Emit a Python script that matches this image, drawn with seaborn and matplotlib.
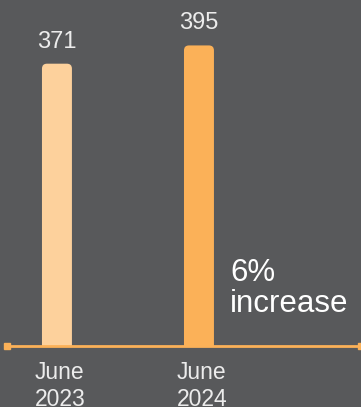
import matplotlib
matplotlib.use("Agg")
import matplotlib.pyplot as plt
import seaborn as sns
import pandas as pd
from matplotlib.patches import FancyBboxPatch, Rectangle

# data
periods = ["June\n2023", "June\n2024"]
counts = [371, 395]
bar_colors = ["#fdd19c", "#fbb158"]
note_text = "6%\nincrease"

bg = "#58595b"
line_color = "#fbb158"

sns.set_theme(style="white")
plt.rcParams["font.family"] = ["Liberation Sans", "DejaVu Sans"]

df = pd.DataFrame({"period": periods, "count": counts})

fig = plt.figure(figsize=(3.61, 4.07), dpi=100)
fig.patch.set_facecolor(bg)
ax = fig.add_axes([0, 0, 1, 1])
ax.set_facecolor(bg)

sns.barplot(data=df, x="period", y="count", hue="period", palette=bar_colors,
            width=0.211, saturation=1, legend=False, ax=ax)

ax.set_xlim(-0.401, 2.141)
ax.set_ylim(-80.2, 454.7)
ax.axis("off")

# px per data unit (y) and per category (x), to round the bar tops
px_y = 407 / (454.7 + 80.2)
px_x = 361 / (2.141 + 0.401)
radius_px = 5
clip = Rectangle((-1, 0), 10, 1000, transform=ax.transData)

for patch in list(ax.patches):
    x0, w, h = patch.get_x(), patch.get_width(), patch.get_height()
    fc = patch.get_facecolor()
    patch.remove()
    r = radius_px / px_x
    rb = FancyBboxPatch((x0 + r, -30 + r * px_x / px_y), w - 2 * r, h + 30 - 2 * r * px_x / px_y,
                        boxstyle=f"round,pad={r}", mutation_aspect=px_x / px_y,
                        facecolor=fc, edgecolor="none", zorder=2)
    ax.add_patch(rb)
    rb.set_clip_path(clip)

for i, v in enumerate(counts):
    ax.annotate(str(v), (i, v), xytext=(0, 8), textcoords="offset points",
                ha="center", va="bottom", fontsize=17, color="#ececec")
    ax.text(i + 0.02, -20, periods[i], ha="center", va="top", fontsize=16.5,
            color="#ececec", linespacing=1.2)

# baseline with square end caps
ax.plot([-0.35, 2.2], [0, 0], color=line_color, lw=2, zorder=3, clip_on=False)
ax.plot([-0.35], [0], marker="s", markersize=5, color=line_color, zorder=4)
ax.plot([2.141], [0], marker="s", markersize=5, color=line_color, zorder=4, clip_on=False)

ax.text(1.22, 36, note_text, ha="left", va="bottom", fontsize=22.5,
        color="white", linespacing=1.02)

fig.savefig("out.png", dpi=100, facecolor=bg)
